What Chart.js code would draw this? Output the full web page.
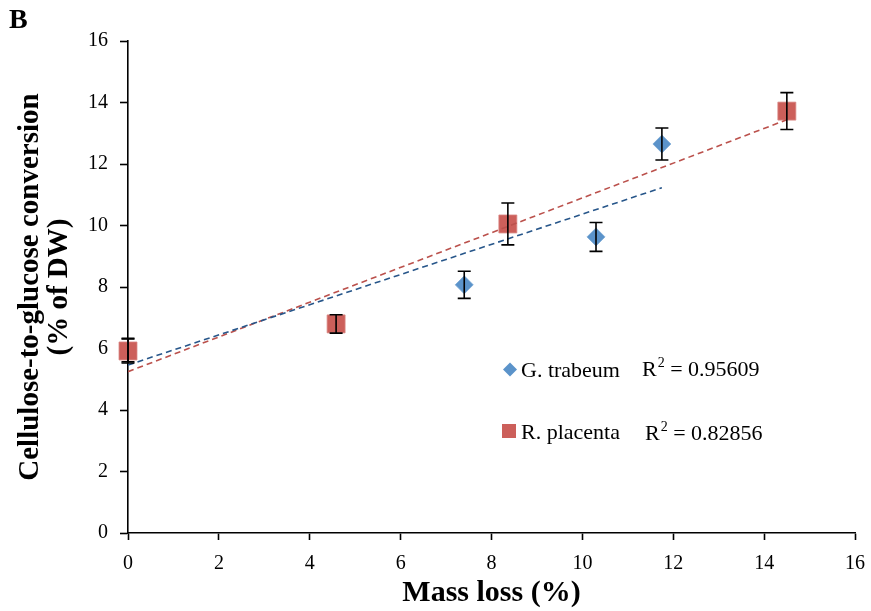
<!DOCTYPE html>
<html>
<head>
<meta charset="utf-8">
<script src="https://cdn.jsdelivr.net/npm/chart.js@4.4.1/dist/chart.umd.min.js"></script>
<style>
  html, body { margin: 0; padding: 0; background: #fff; }
  canvas { display: block; }
</style>
</head>
<body>
<canvas id="chart" width="871" height="611"></canvas>
<script>
// mass loss (%) vs cellulose-to-glucose conversion (% of DW), with SD
var massLossGT = [0, 7.4, 10.3, 11.75];
var conversionGT = [5.95, 8.07, 9.63, 12.65];
var errorGT = [0.38, 0.44, 0.47, 0.52];

var massLossRP = [0, 4.58, 8.36, 14.5];
var conversionRP = [5.92, 6.8, 10.05, 13.72];
var errorRP = [0.39, 0.3, 0.68, 0.6];

var seriesNames = ['G. trabeum', 'R. placenta'];
var rSquared = ['0.95609', '0.82856'];

var xTicks = [0, 2, 4, 6, 8, 10, 12, 14, 16];
var yTicks = [0, 2, 4, 6, 8, 10, 12, 14, 16];

function points(xs, ys) {
    return xs.map(function (x, i) { return { x: x, y: ys[i] }; });
}

// least squares line over the measured range
function trend(xs, ys) {
    var n = xs.length, sx = 0, sy = 0, sxx = 0, sxy = 0;
    for (var i = 0; i < n; i++) {
        sx += xs[i]; sy += ys[i]; sxx += xs[i] * xs[i]; sxy += xs[i] * ys[i];
    }
    var m = (n * sxy - sx * sy) / (n * sxx - sx * sx);
    var b = (sy - m * sx) / n;
    var x0 = Math.min.apply(null, xs), x1 = Math.max.apply(null, xs);
    return [{ x: x0, y: b + m * x0 }, { x: x1, y: b + m * x1 }];
}

var blue = '#5b93ca';
var red = '#cc5f5a';

var errorBars = {
    id: 'errorBars',
    afterDatasetsDraw: function (chart) {
        var ctx = chart.ctx, xs = chart.scales.x, ys = chart.scales.y;
        ctx.save();
        ctx.strokeStyle = '#000';
        ctx.lineWidth = 1.6;
        chart.data.datasets.forEach(function (ds) {
            if (!ds.errors) return;
            ds.data.forEach(function (p, i) {
                var px = xs.getPixelForValue(p.x);
                var top = ys.getPixelForValue(p.y + ds.errors[i]);
                var bot = ys.getPixelForValue(p.y - ds.errors[i]);
                ctx.beginPath();
                ctx.moveTo(px, top); ctx.lineTo(px, bot);
                ctx.moveTo(px - 6.5, top); ctx.lineTo(px + 6.5, top);
                ctx.moveTo(px - 6.5, bot); ctx.lineTo(px + 6.5, bot);
                ctx.stroke();
            });
        });
        ctx.restore();
    }
};

// "R² = value" with a raised small 2
function drawR2(ctx, value, x, y) {
    ctx.font = '22px "Liberation Serif"';
    ctx.fillText('R', x, y);
    x += ctx.measureText('R').width + 1;
    ctx.font = '14px "Liberation Serif"';
    ctx.fillText('2', x, y - 7);
    x += ctx.measureText('2').width;
    ctx.font = '22px "Liberation Serif"';
    ctx.fillText(' = ' + value, x, y);
}

var legendBox = {
    id: 'legendBox',
    afterDraw: function (chart) {
        var ctx = chart.ctx;
        ctx.save();
        ctx.textBaseline = 'middle';
        ctx.fillStyle = blue;
        ctx.beginPath();
        ctx.moveTo(510, 362.5); ctx.lineTo(517, 369.5); ctx.lineTo(510, 376.5); ctx.lineTo(503, 369.5);
        ctx.closePath(); ctx.fill();
        ctx.fillStyle = red;
        ctx.fillRect(502, 424, 14, 14);
        ctx.fillStyle = '#000';
        ctx.font = '22px "Liberation Serif"';
        ctx.fillText(seriesNames[0], 521, 371);
        ctx.fillText(seriesNames[1], 521, 433);
        drawR2(ctx, rSquared[0], 642, 370);
        drawR2(ctx, rSquared[1], 645, 434);
        ctx.restore();

        // panel letter
        ctx.save();
        ctx.font = 'bold 28px "Liberation Serif"';
        ctx.fillStyle = '#000';
        ctx.textBaseline = 'top';
        ctx.fillText('B', 9, 7);
        ctx.restore();
    }
};

new Chart(document.getElementById('chart'), {
    type: 'scatter',
    data: {
        datasets: [{
            label: seriesNames[0] + ' trend',
            type: 'line',
            data: trend(massLossGT, conversionGT),
            borderColor: '#27568a',
            borderWidth: 1.6,
            borderDash: [6, 4],
            pointRadius: 0,
            order: 0
        }, {
            label: seriesNames[1] + ' trend',
            type: 'line',
            data: trend(massLossRP, conversionRP),
            borderColor: '#bb514c',
            borderWidth: 1.6,
            borderDash: [6, 4],
            pointRadius: 0,
            order: 0
        }, {
            label: seriesNames[0],
            data: points(massLossGT, conversionGT),
            errors: errorGT,
            pointStyle: 'rectRot',
            pointRadius: 9,
            backgroundColor: blue,
            borderColor: '#7aa8d6',
            borderWidth: 0.8,
            clip: false,
            order: 2
        }, {
            label: seriesNames[1],
            data: points(massLossRP, conversionRP),
            errors: errorRP,
            pointStyle: 'rect',
            pointRadius: 12.7,
            backgroundColor: red,
            borderColor: '#d98783',
            borderWidth: 0.8,
            clip: false,
            order: 1
        }]
    },
    options: {
        responsive: false,
        animation: false,
        layout: { padding: { top: 41, right: 16, left: 0, bottom: 0 } },
        plugins: {
            legend: { display: false },
            tooltip: { enabled: false }
        },
        scales: {
            x: {
                type: 'linear',
                min: 0, max: 16,
                afterBuildTicks: function (s) { s.ticks = xTicks.map(function (v) { return { value: v }; }); },
                afterFit: function (s) { s.height = 78; s.paddingRight = 0; },
                border: { color: '#000', width: 1.6 },
                grid: { drawOnChartArea: false, drawTicks: true, tickLength: 7, tickColor: '#000', tickWidth: 1.6 },
                ticks: { color: '#000', padding: 12, font: { family: 'Liberation Serif', size: 20 } },
                title: {
                    display: true,
                    text: 'Mass loss (%)',
                    color: '#000',
                    font: { family: 'Liberation Serif', size: 30, weight: 'bold' },
                    padding: { top: 0, bottom: 0 }
                }
            },
            y: {
                type: 'linear',
                min: 0, max: 16,
                afterBuildTicks: function (s) { s.ticks = yTicks.map(function (v) { return { value: v }; }); },
                afterFit: function (s) { s.width = 128; },
                border: { color: '#000', width: 1.6 },
                grid: { drawOnChartArea: false, drawTicks: true, tickLength: 8, tickColor: '#000', tickWidth: 1.6 },
                ticks: { color: '#000', padding: 12, font: { family: 'Liberation Serif', size: 20 } },
                title: {
                    display: true,
                    text: ['Cellulose-to-glucose conversion', '(% of DW)'],
                    color: '#000',
                    font: { family: 'Liberation Serif', size: 29, weight: 'bold', lineHeight: 1.0 },
                    padding: { top: 16, bottom: 0 }
                }
            }
        }
    },
    plugins: [errorBars, legendBox]
});
</script>
</body>
</html>
